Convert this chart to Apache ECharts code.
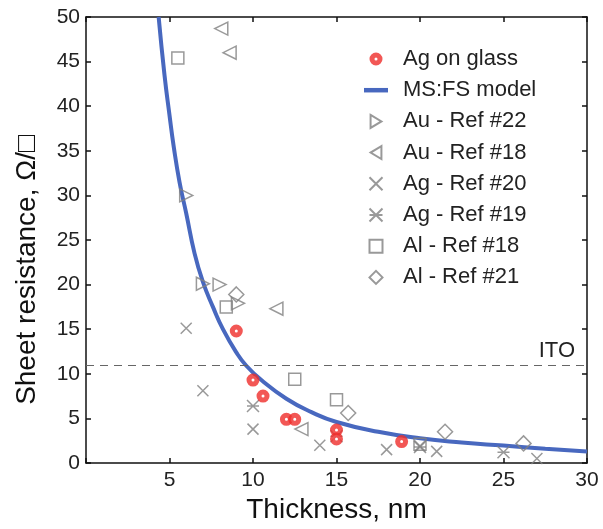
<!DOCTYPE html>
<html><head><meta charset="utf-8">
<script src="https://cdn.jsdelivr.net/npm/echarts@6/dist/echarts.min.js"></script>
<style>html,body{margin:0;padding:0;background:#fff}#c{width:603px;height:529px}</style>
</head><body><div id="c"></div>
<script>
// Data: [thickness nm, sheet resistance Ohm/sq]
const agOnGlass = [[9,14.8],[10,9.3],[10.6,7.5],[12,4.9],[12.5,4.9],[15,3.7],[15,2.7],[18.9,2.4]];
const msfsModel = [[4.35,50],[4.7,43.5],[5.0,39],[5.25,35.5],[5.6,31.5],[6.0,28],[6.5,23.5],[7.0,20.3],[7.6,17.5],[8.2,15.0],[9.0,12.4],[9.6,10.9],[10.5,9.3],[12,7.2],[13.5,5.7],[15,4.6],[17.5,3.5],[20,2.77],[22.5,2.3],[25,1.95],[27.5,1.6],[30,1.3]];
const auRef22 = [[6,30],[7,20.1],[8,20],[9.1,17.9]];
const auRef18 = [[8.1,48.7],[8.6,46],[11.4,17.3],[12.9,3.8]];
const agRef20 = [[6,15.1],[7,8.1],[10,3.8],[14,2.0],[18,1.5],[20,1.9],[21,1.3],[27,0.5]];
const agRef19 = [[10,6.4],[15,3.0],[20,1.8],[25,1.2]];
const alRef18 = [[5.5,45.4],[8.4,17.5],[12.5,9.4],[15,7.1],[20,2.1]];
const alRef21 = [[9,18.9],[15.7,5.6],[21.5,3.5],[26.2,2.2]];
const itoLevel = 11;
const xTicks = [5,10,15,20,25,30];
const legendNames = ['Ag on glass','MS:FS model','Au - Ref #22','Au - Ref #18','Ag - Ref #20','Ag - Ref #19','Al - Ref #18','Al - Ref #21'];

const FONT = 'Liberation Sans, Arial, sans-serif';
const GRAY = '#7f7f7f';
const RED = '#ef2d2a';
const BLUE = '#4868bf';
const chart = echarts.init(document.getElementById('c'));
const hollow = {color:'rgba(0,0,0,0)', borderColor:GRAY, borderWidth:1.5};
const P = {
  right:'path://M0,0L10,6L0,12Z',
  left:'path://M10,0L0,6L10,12Z',
  cross:'path://M0,0L10,10M10,0L0,10',
  star:'path://M0,0L10,10M10,0L0,10M0,5L10,5',
  square:'path://M0,0L10,0L10,10L0,10Z',
  diamond:'path://M6,0L12,6L6,12L0,6Z',
  line:'path://M0,0L24,0L24,4.5L0,4.5Z',
  dot:'path://M0,6A6,6 0 1,1 12,6A6,6 0 1,1 0,6ZM4.6,6A1.4,1.4 0 1,0 7.4,6A1.4,1.4 0 1,0 4.6,6Z'
};
function sc(name, data, symbol, size, style){
  return {type:'scatter', name, data, symbol, symbolSize:size,
    itemStyle:style||hollow, z:3, emphasis:{disabled:true}};
}
const axisCommon = {
  min:0, interval:5,
  axisLine:{show:true, onZero:false, lineStyle:{color:'#111', width:1.5}},
  axisTick:{show:true, inside:true, length:5, lineStyle:{color:'#111', width:1.5}},
  splitLine:{show:false}
};
const legendIcons = [P.dot, P.line, P.right, P.left, P.cross, P.star, P.square, P.diamond];
chart.setOption({
  animation:false,
  textStyle:{fontFamily:FONT},
  grid:{left:86, right:16, top:17, bottom:66},
  xAxis:[
    Object.assign({}, axisCommon, {type:'value', max:30, position:'bottom',
      name:'Thickness, nm', nameLocation:'middle', nameGap:28,
      nameTextStyle:{fontSize:28, color:'#111', fontFamily:FONT},
      axisLabel:{fontSize:21, color:'#222', margin:7, fontFamily:FONT,
        formatter:v => xTicks.includes(v) ? String(v) : ''}}),
    Object.assign({}, axisCommon, {type:'value', max:30, position:'top', axisLabel:{show:false}})
  ],
  yAxis:[
    Object.assign({}, axisCommon, {type:'value', max:50, position:'left',
      name:'Sheet resistance, \u03A9/\u25A1', nameLocation:'middle', nameGap:45,
      nameTextStyle:{fontSize:28, color:'#111', fontFamily:FONT, padding:[0,60,0,0]},
      axisLabel:{fontSize:21, color:'#222', margin:6, fontFamily:FONT}}),
    Object.assign({}, axisCommon, {type:'value', max:50, position:'right', axisLabel:{show:false}})
  ],
  legend:{
    orient:'vertical', left:359, top:43, itemWidth:24, itemHeight:13, itemGap:9.2,
    symbolKeepAspect:true,
    textStyle:{fontSize:22, color:'#222', fontFamily:FONT, padding:[0,0,0,10]},
    data:legendNames.map((n,i) => {
      const d = {name:n, icon:legendIcons[i]};
      if (i === 0) d.itemStyle = {color:RED, borderWidth:0};
      if (i === 1) d.itemStyle = {color:BLUE, borderWidth:0};
      return d;
    })
  },
  series:[
    {type:'line', name:'MS:FS model', data:msfsModel, smooth:true, symbol:'none', z:2,
      lineStyle:{color:BLUE, width:4}, itemStyle:{color:BLUE},
      emphasis:{disabled:true},
      markLine:{silent:true, symbol:'none',
        lineStyle:{type:[8,6], color:'#666', width:1.2},
        label:{show:true, position:'insideEndTop', formatter:'ITO', fontSize:22, color:'#222', fontFamily:FONT, distance:[12,3]},
        data:[{yAxis:itoLevel}]}},
    sc('Au - Ref #22', auRef22, P.right, 13),
    sc('Au - Ref #18', auRef18, P.left, 13),
    sc('Ag - Ref #20', agRef20, P.cross, 11),
    sc('Ag - Ref #19', agRef19, P.star, 12),
    sc('Al - Ref #18', alRef18, P.square, 12),
    sc('Al - Ref #21', alRef21, P.diamond, 15),
    sc('Ag on glass', agOnGlass, 'circle', 8, {color:'#fff', borderColor:RED, borderWidth:5})
  ]
});
</script></body></html>
